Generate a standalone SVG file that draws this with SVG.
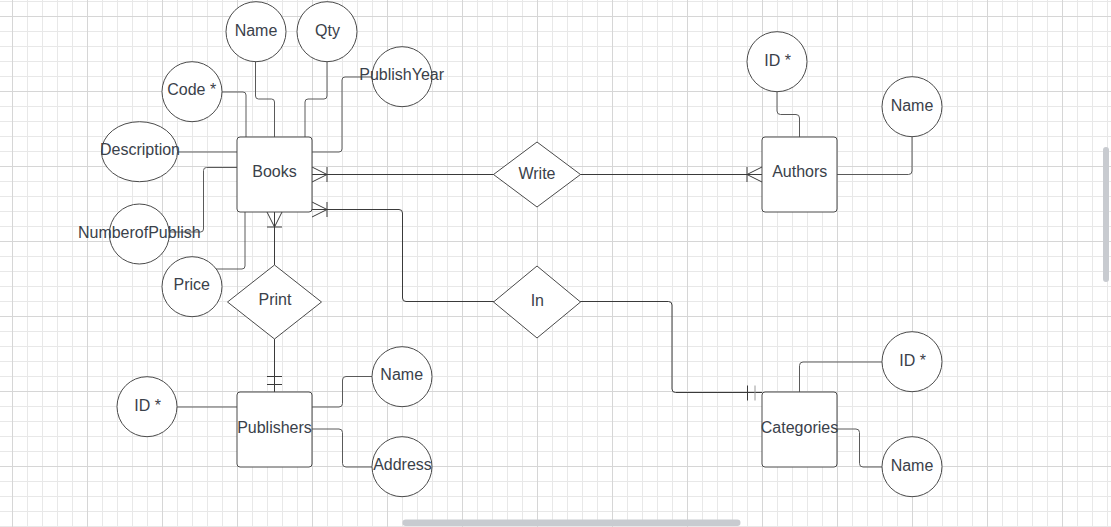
<svg xmlns="http://www.w3.org/2000/svg" width="1111" height="527" viewBox="0 0 1111 527">
<style>
.ent{fill:#fff;stroke:#4a4a4a;stroke-width:1}
.attr{fill:#fff;stroke:#4a4a4a;stroke-width:1}
.rel{fill:#fff;stroke:#4a4a4a;stroke-width:1;stroke-linejoin:round}
.t{font-family:"Liberation Sans",Arial,sans-serif;font-size:16px;fill:#3a414a;text-anchor:middle}
.c{fill:none;stroke:#3a3a3a;stroke-width:1}
.a{fill:none;stroke:#5a5a5a;stroke-width:1}
.light{stroke:#9a9a9a}
.sb{fill:#c8cbd0}
</style>
<defs>
<pattern id="minor" patternUnits="userSpaceOnUse" x="12" y="1" width="15" height="15">
<path d="M0.5 0V15M0 0.5H15" fill="none" stroke="#e8e8e8" stroke-width="1"/>
</pattern>
<pattern id="major" patternUnits="userSpaceOnUse" x="12" y="16" width="75" height="75">
<path d="M0.5 0V75M0 0.5H75" fill="none" stroke="#d6d6d6" stroke-width="1"/>
</pattern>
</defs>
<rect width="1111" height="527" fill="#fff"/>
<rect width="1111" height="527" fill="url(#minor)"/>
<rect width="1111" height="527" fill="url(#major)"/>

<g id="connectors">
<path class="c" d="M312 174.5H494"/>
<path class="c" d="M312 167L327 174.5L312 182M327 167V182"/>
<path class="c" d="M312 209.5H399Q402.5 209.5 402.5 213V298Q402.5 301.5 406 301.5H494"/>
<path class="c" d="M312 202L327 209.5L312 217M327 202V217"/>
<path class="c" d="M580 301.5H668.5Q672 301.5 672 305V389Q672 392.5 675.5 392.5H762"/>
<path class="c" d="M747.5 385.5V400.5"/>
<path class="c light" d="M755 385.5V400.5"/>
<path class="c" d="M580 174.5H762"/>
<path class="c" d="M762 167L747 174.5L762 182M747 167V182"/>
<path class="c" d="M274.5 212V265"/>
<path class="c" d="M267 212L274.5 227L282 212M267 227H282"/>
<path class="c" d="M274.5 339V392"/>
<path class="c" d="M267 376.5H282M267 384.5H282"/>
<path class="a" d="M255.5 61.7V96Q255.5 99 258.5 99H271.5Q274.5 99 274.5 102V137"/>
<path class="a" d="M327 61.7V96Q327 99 324 99H308Q305 99 305 102V137"/>
<path class="a" d="M222 92H243Q246 92 246 95V137"/>
<path class="a" d="M312 152H339Q342 152 342 149V80Q342 77 345 77H372"/>
<path class="a" d="M177.5 152H237"/>
<path class="a" d="M237 167.5H206.5Q203.5 167.5 203.5 170.5V229Q203.5 232 200.5 232H169"/>
<path class="a" d="M245 212V266Q245 269 242 269H216"/>
<path class="a" d="M777 91.7V111Q777 114.5 780.5 114.5H796Q799.5 114.5 799.5 118V137"/>
<path class="a" d="M837 174.5H908.5Q912 174.5 912 171V136.7"/>
<path class="a" d="M882 362H803Q799.5 362 799.5 365.5V392"/>
<path class="a" d="M837 429H856Q859.5 429 859.5 432.5V463.5Q859.5 467 863 467H882"/>
<path class="a" d="M177 407H237"/>
<path class="a" d="M312 407H339Q342.5 407 342.5 403.5V380Q342.5 376.5 346 376.5H372"/>
<path class="a" d="M312 429H339Q342.5 429 342.5 432.5V463.5Q342.5 467 346 467H372"/>
</g>

<g id="books"><rect class="ent" x="237" y="137" width="75" height="75" rx="3"/><text class="t" x="274.5" y="177">Books</text></g>
<g id="authors"><rect class="ent" x="762" y="137" width="75" height="75" rx="3"/><text class="t" x="799.7" y="177">Authors</text></g>
<g id="publishers"><rect class="ent" x="237" y="392" width="75" height="75" rx="3"/><text class="t" x="274.5" y="432.5">Publishers</text></g>
<g id="categories"><rect class="ent" x="762" y="392" width="75" height="75" rx="3"/><text class="t" x="799.5" y="433">Categories</text></g>

<g id="write"><polygon class="rel" points="537,142 580.5,174.5 537,207 493.5,174.5"/><text class="t" x="537" y="179">Write</text></g>
<g id="in"><polygon class="rel" points="537,266 580.5,302 537,338 493.5,302"/><text class="t" x="537.3" y="305.5">In</text></g>
<g id="print"><polygon class="rel" points="274.5,265 321.5,302 274.5,339 227.5,302"/><text class="t" x="275" y="304.7">Print</text></g>

<g id="books-name"><circle class="attr" cx="256" cy="31.7" r="30"/><text class="t" x="256" y="35.7">Name</text></g>
<g id="books-qty"><circle class="attr" cx="327" cy="31.7" r="30"/><text class="t" x="327.5" y="35.7">Qty</text></g>
<g id="books-publishyear"><circle class="attr" cx="402" cy="76.7" r="30"/><text class="t" x="401.7" y="80">PublishYear</text></g>
<g id="books-code"><circle class="attr" cx="192" cy="91.7" r="30"/><text class="t" x="191.7" y="95">Code *</text></g>
<g id="books-description"><ellipse class="attr" cx="139.5" cy="151.7" rx="38" ry="30"/><text class="t" x="140" y="155">Description</text></g>
<g id="books-numberofpublish"><circle class="attr" cx="139.3" cy="234" r="30"/><text class="t" x="139.3" y="237.7">NumberofPublish</text></g>
<g id="books-price"><circle class="attr" cx="192" cy="286.7" r="30"/><text class="t" x="191.7" y="289.7">Price</text></g>

<g id="authors-id"><circle class="attr" cx="777" cy="61.7" r="30"/><text class="t" x="777.7" y="65.7">ID *</text></g>
<g id="authors-name"><circle class="attr" cx="912" cy="106.7" r="30"/><text class="t" x="912" y="110.7">Name</text></g>

<g id="categories-id"><circle class="attr" cx="912" cy="361.7" r="30"/><text class="t" x="912.7" y="365.7">ID *</text></g>
<g id="categories-name"><circle class="attr" cx="912" cy="466.7" r="30"/><text class="t" x="912" y="470.7">Name</text></g>

<g id="publishers-id"><circle class="attr" cx="147" cy="406.7" r="30"/><text class="t" x="147.7" y="410.7">ID *</text></g>
<g id="publishers-name"><circle class="attr" cx="402" cy="376.7" r="30"/><text class="t" x="401.7" y="380">Name</text></g>
<g id="publishers-address"><circle class="attr" cx="402" cy="466.7" r="30"/><text class="t" x="402.5" y="470">Address</text></g>

<rect class="sb" x="1103" y="147" width="6" height="135" rx="3"/>
<rect class="sb" x="402.5" y="519.5" width="338" height="6.5" rx="3.2"/>
</svg>
